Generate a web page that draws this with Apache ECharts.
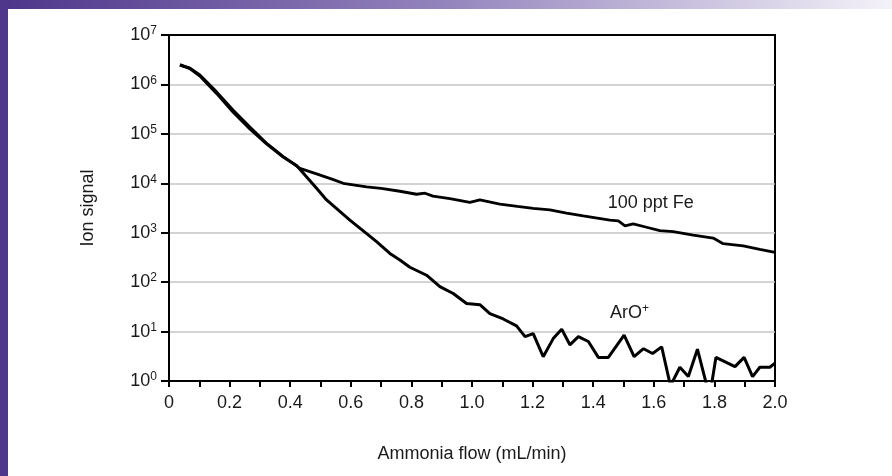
<!DOCTYPE html>
<html>
<head>
<meta charset="utf-8">
<script src="https://cdn.jsdelivr.net/npm/echarts@6/dist/echarts.min.js"></script>
<style>
html,body{margin:0;padding:0;background:#fff;}
#chart{width:892px;height:476px;}
</style>
</head>
<body>
<div id="chart"></div>
<script>
// Ammonia flow (mL/min) and ion signal for 100 ppt Fe
var feFlow = [0.036,0.069,0.102,0.157,0.212,0.267,0.322,0.377,0.432,0.487,0.54,0.575,0.652,0.70,0.762,0.817,0.845,0.871,0.927,0.993,1.026,1.092,1.15,1.202,1.257,1.312,1.367,1.455,1.483,1.505,1.532,1.576,1.62,1.664,1.73,1.796,1.829,1.895,1.95,2.0];
var feSignal = [2.45e6,2.14e6,1.55e6,7.08e5,3.02e5,1.38e5,6.46e4,3.47e4,2.0e4,1.55e4,1.2e4,1.0e4,8500,7900,6900,6000,6300,5500,4900,4100,4600,3800,3400,3100,2900,2500,2200,1800,1740,1380,1510,1290,1100,1050,890,780,600,540,460,400];
// Ammonia flow and ion signal for ArO+
var aroFlow = [0.036,0.069,0.102,0.157,0.212,0.267,0.322,0.377,0.421,0.487,0.52,0.597,0.685,0.729,0.762,0.795,0.85,0.894,0.938,0.982,1.026,1.059,1.103,1.147,1.175,1.202,1.235,1.268,1.296,1.323,1.351,1.384,1.417,1.45,1.502,1.535,1.566,1.596,1.626,1.655,1.686,1.714,1.744,1.775,1.79,1.805,1.868,1.898,1.926,1.95,1.983,2.0];
var aroSignal = [2.5e6,2.1e6,1.48e6,6.6e5,2.75e5,1.26e5,6.3e4,3.4e4,2.3e4,7900,4600,1800,660,380,280,200,138,81,59,37,35,23,18,13,7.9,9.1,3.1,7.2,11.2,5.4,7.9,6.3,3.0,3.0,8.5,3.1,4.5,3.6,4.9,0.8,1.9,1.23,4.4,0.8,0.8,3.0,1.95,3.0,1.23,1.9,1.9,2.3];
var xTicks = [0,0.2,0.4,0.6,0.8,1.0,1.2,1.4,1.6,1.8,2.0];
var seriesNames = ['100 ppt Fe','ArO+'];
var xTitle = 'Ammonia flow (mL/min)';
var yTitle = 'Ion signal';

function pairs(xs, ys){ return xs.map(function(x,i){ return [x, ys[i]]; }); }

var FONT = '"Liberation Sans", Arial, sans-serif';
var chart = echarts.init(document.getElementById('chart'), null, {renderer:'canvas'});
var option = {
  animation:false,
  backgroundColor:'#ffffff',
  graphic:[
    {type:'rect', left:0, top:0, shape:{width:892, height:9}, z:10,
     style:{fill:new echarts.graphic.LinearGradient(0,0,1,0,[{offset:0,color:'#4d358a'},{offset:0.5,color:'#9484bd'},{offset:1,color:'#f4f2f9'}])}},
    {type:'rect', left:0, top:0, shape:{width:8, height:476}, z:11, style:{fill:'#4f378b'}}
  ],
  grid:{left:169, right:117, top:35, bottom:95, show:true, borderColor:'#000', borderWidth:2, backgroundColor:'transparent'},
  xAxis:{
    type:'value', min:0, max:2, interval:0.2,
    name:xTitle, nameLocation:'middle', nameGap:64,
    nameTextStyle:{fontFamily:FONT, fontSize:18, color:'#1a1a1a'},
    axisLine:{show:true, lineStyle:{color:'#000', width:2}},
    axisTick:{show:true, length:6, lineStyle:{color:'#000', width:2}},
    minorTick:{show:true, splitNumber:2, length:6, lineStyle:{color:'#000', width:2}},
    splitLine:{show:false},
    axisLabel:{fontFamily:FONT, fontSize:18, color:'#1a1a1a', margin:13,
      formatter:function(v){ var t = xTicks.find(function(k){return Math.abs(k-v)<1e-9;}); return t===0 ? '0' : v.toFixed(1); }}
  },
  yAxis:{
    type:'log', logBase:10, min:1, max:1e7,
    name:yTitle, nameLocation:'middle', nameGap:72,
    nameTextStyle:{fontFamily:FONT, fontSize:18, color:'#1a1a1a'},
    axisLine:{show:true, lineStyle:{color:'#000', width:2}},
    axisTick:{show:true, length:8, lineStyle:{color:'#000', width:2}},
    minorTick:{show:false},
    splitLine:{show:true, showMinLine:false, showMaxLine:false, lineStyle:{color:'#c4c4c4', width:1.5}},
    axisLabel:{margin:12,
      formatter:function(v){ var e = Math.round(Math.log10(v)); return '{b|10}{s|' + e + '}'; },
      rich:{
        b:{fontFamily:FONT, fontSize:18, color:'#1a1a1a', lineHeight:20, verticalAlign:'middle'},
        s:{fontFamily:FONT, fontSize:12, color:'#1a1a1a', lineHeight:12, verticalAlign:'top'}
      }}
  },
  series:[
    {name:seriesNames[0], type:'line', data:pairs(feFlow, feSignal), showSymbol:false, clip:true,
     lineStyle:{color:'#000', width:2.8}, z:3,
     markPoint:{symbol:'circle', symbolSize:0, silent:true,
       data:[{coord:[1.59, 4000]}],
       label:{show:true, position:'inside', formatter:'100 ppt Fe', fontFamily:FONT, fontSize:18, color:'#1a1a1a'}}},
    {name:seriesNames[1], type:'line', data:pairs(aroFlow, aroSignal), showSymbol:false, clip:true,
     lineStyle:{color:'#000', width:3}, z:3,
     markPoint:{symbol:'circle', symbolSize:0, silent:true,
       data:[{coord:[1.52, 24]}],
       label:{show:true, position:'inside', formatter:'{b|ArO}{s|+}',
         rich:{
           b:{fontFamily:FONT, fontSize:18, color:'#1a1a1a', lineHeight:20, verticalAlign:'middle'},
           s:{fontFamily:FONT, fontSize:12, color:'#1a1a1a', lineHeight:12, verticalAlign:'top'}
         }}}}
  ]
};
chart.setOption(option);
</script>
</body>
</html>
